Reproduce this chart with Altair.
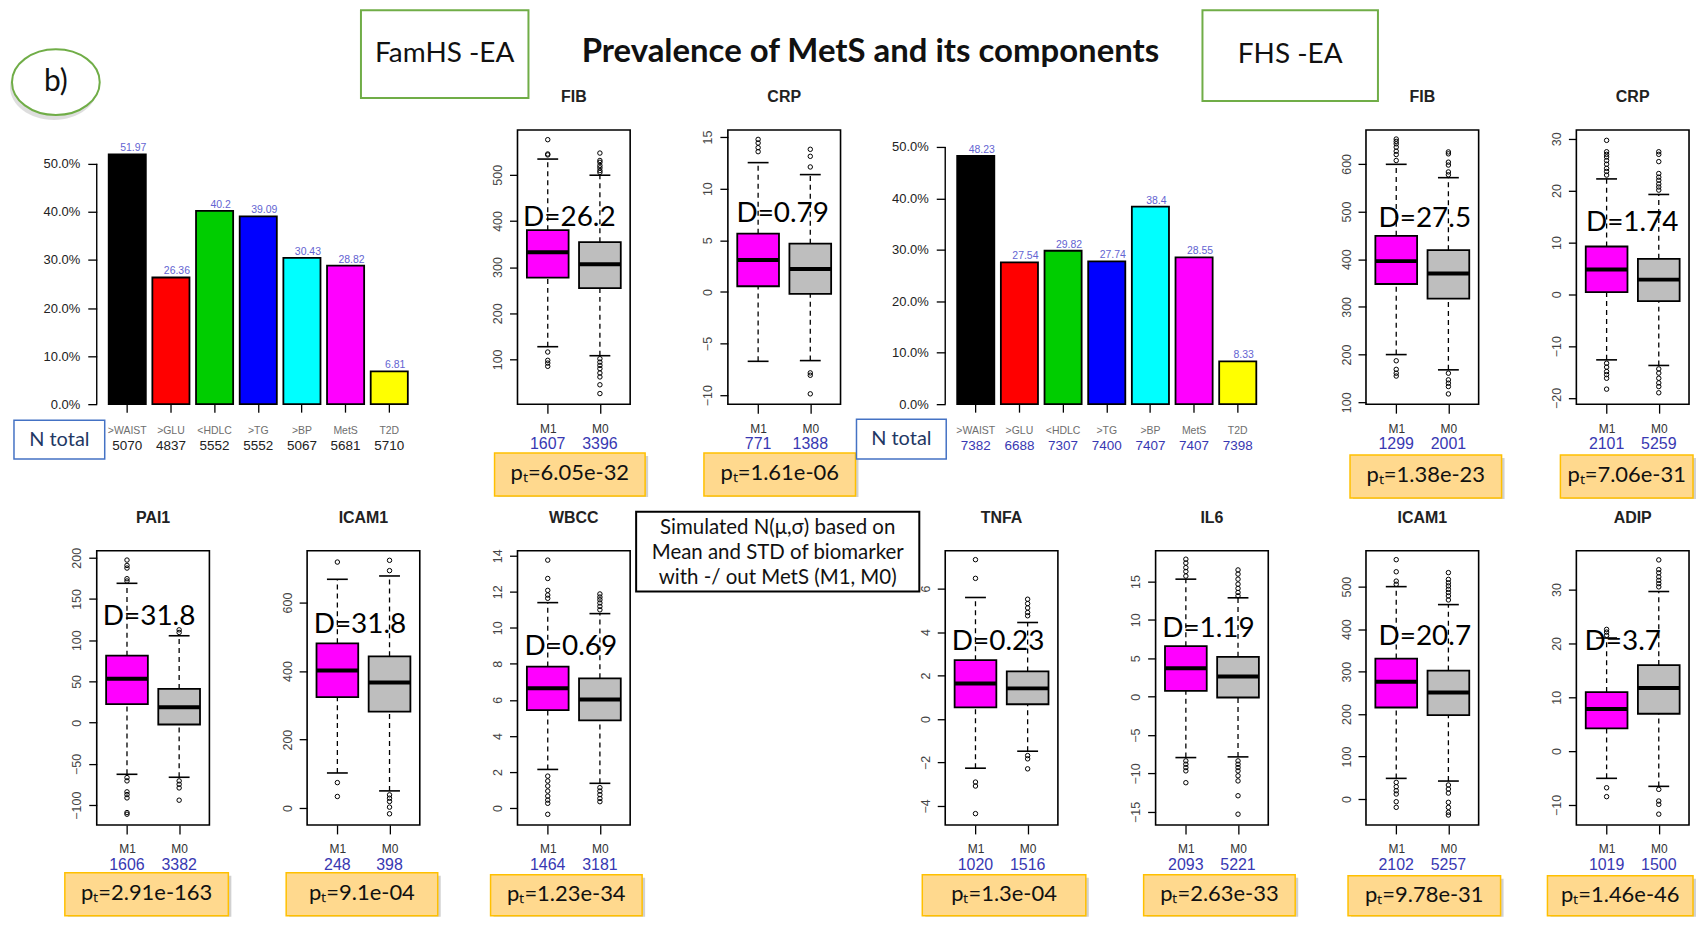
import altair as alt
import pandas as pd

# ------------------------------------------------------------------ data
categories = [">WAIST", ">GLU", "<HDLC", ">TG", ">BP", "MetS", "T2D"]
bar_colors = ["#000000", "#FF0000", "#00CD00", "#0000FF", "#00FFFF", "#FF00FF", "#FFFF00"]
famhs_prev = [51.97, 26.36, 40.2, 39.09, 30.43, 28.82, 6.81]
famhs_n = [5070, 4837, 5552, 5552, 5067, 5681, 5710]
fhs_prev = [48.23, 27.54, 29.82, 27.74, 38.4, 28.55, 8.33]
fhs_n = [7382, 6688, 7307, 7400, 7407, 7407, 7398]
pct_ticks = [0, 10, 20, 30, 40, 50]

group_labels = ["M1", "M0"]

# five-number summaries: [lower whisker, Q1, median, Q3, upper whisker]
famhs_fib_m1 = [127.5, 277, 332, 380, 534]
famhs_fib_m0 = [108, 254.5, 306, 354, 499]
famhs_fib_out_m1 = [576, 545, 543, 116, 98, 92, 85]
famhs_fib_out_m0 = [547, 531, 527, 520, 515, 509, 505, 101.5, 94, 87, 80, 70.5, 62, 45, 26]
famhs_fib_n = [1607, 3396]

famhs_crp_m1 = [-6.72, 0.55, 3.1, 5.64, 12.52]
famhs_crp_m0 = [-6.65, -0.19, 2.23, 4.67, 11.36]
famhs_crp_out_m1 = [14.77, 14.42, 13.97, 13.58]
famhs_crp_out_m0 = [13.81, 13.13, 12.1, -7.84, -8.07, -9.87]
famhs_crp_n = [771, 1388]

fhs_fib_m1 = [200, 348, 396, 449, 599]
fhs_fib_m0 = [168, 317.5, 370, 419, 571]
fhs_fib_out_m1 = [652, 647, 642, 635, 626.5, 619.5, 607, 187, 169, 161, 155]
fhs_fib_out_m0 = [625, 621, 603.5, 597.5, 583, 577, 161, 147, 140, 133, 117.5]
fhs_fib_n = [1299, 2001]

fhs_crp_m1 = [-12.65, 0.4, 4.8, 9.22, 22.26]
fhs_crp_m0 = [-13.73, -1.33, 2.83, 6.85, 19.26]
fhs_crp_out_m1 = [29.7, 27.5, 27.0, 26.5, 25.8, 25.1, 24.3, 23.7, 23.0,
                  -13.3, -14.05, -14.9, -15.5, -16.2, -18.3]
fhs_crp_out_m0 = [27.5, 27.0, 25.6, 23.3, 22.6, 22.0, 21.3, 20.7, 20.1,
                  -14.4, -15.2, -16.2, -17.1, -17.8, -19.0]
fhs_crp_n = [2101, 5259]

pai1_m1 = [-62.6, 22.4, 53.4, 81.2, 169]
pai1_m0 = [-66.2, -2.2, 18.8, 41, 105.4]
pai1_out_m1 = [197.2, 190.7, 187.5, 174.6, 171.8, -66.6, -70.6, -83.9, -87.2, -91.2, -109, -111]
pai1_out_m0 = [112.6, 109.4, -70.6, -74.7, -79.1, -94]
pai1_n = [1606, 3382]

famhs_icam1_m1 = [102.6, 324, 401.6, 481, 667.7]
famhs_icam1_m0 = [50.3, 281.6, 366.8, 443, 677.4]
famhs_icam1_out_m1 = [718, 74.5, 34]
famhs_icam1_out_m0 = [723, 693, 38.7, 29, 19.4, 2.9, -16.5]
famhs_icam1_n = [248, 398]

wbcc_m1 = [2.14, 5.43, 6.65, 7.85, 11.4]
wbcc_m0 = [1.37, 4.86, 6.02, 7.2, 10.79]
wbcc_out_m1 = [13.76, 12.74, 12.08, 11.82, 11.64, 1.77, 1.5, 1.22, 0.94, 0.66, 0.44, 0.26, -0.35]
wbcc_out_m0 = [11.88, 11.71, 11.56, 11.38, 11.19, 11.0, 1.13, 0.94, 0.74, 0.53, 0.35]
wbcc_n = [1464, 3181]

tnfa_m1 = [-2.26, 0.54, 1.63, 2.71, 5.59]
tnfa_m0 = [-1.48, 0.68, 1.41, 2.19, 4.44]
tnfa_out_m1 = [7.33, 6.47, -2.9, -3.08, -4.35]
tnfa_out_m0 = [5.51, 5.31, 5.11, 4.9, 4.75, -1.68, -1.83, -2.29]
tnfa_n = [1020, 1516]

il6_m1 = [-7.93, 0.76, 3.71, 6.58, 15.3]
il6_m0 = [-7.84, -0.11, 2.63, 5.19, 12.87]
il6_out_m1 = [17.9, 17.4, 16.8, 16.3, 15.7, -8.36, -8.8, -9.23, -9.66, -11.2]
il6_out_m0 = [16.5, 15.96, 15.3, 14.65, 14.09, 13.57, 13.13,
              -8.36, -8.8, -9.23, -9.66, -10.3, -10.97, -12.9, -15.3]
il6_n = [2093, 5221]

fhs_icam1_m1 = [48.6, 215.5, 275.9, 330.7, 500]
fhs_icam1_m0 = [42.3, 197.5, 250.8, 302.5, 457.7]
fhs_icam1_out_m1 = [563.5, 535, 513, 505.5, 39.2, 29, 19.6, 11.8, -6.3, -19.6]
fhs_icam1_out_m0 = [533, 517, 509, 501.6, 493.7, 486, 478, 468.7,
                    33, 23.5, 14, -7.8, -19.6, -31.3, -37.6]
fhs_icam1_n = [2102, 5257]

adip_m1 = [-5.05, 4.22, 7.8, 10.96, 21.0]
adip_m0 = [-6.54, 6.94, 11.7, 15.97, 29.63]
adip_out_m1 = [22.6, 22.1, 21.5, -6.8, -8.45]
adip_out_m0 = [35.5, 33.7, 33.1, 32.35, 31.7, 31.1, 30.5, -7.1, -9.26, -9.88, -11.7]
adip_n = [1019, 1500]

# ------------------------------------------------------------------ style
FR = "Liberation Sans"
FO = "Lato"
BLUE_N = "#3838B2"
PBOX_FILL = "#FFD98E"
PBOX_STROKE = "#FFC000"
GREEN = "#70AD47"

# grid column widths (shared by all rows)
COLS = [113, 98, 113, 98, 113, 98, 113, 105, 113, 98, 113, 98, 113, 98, 113]
NC = len(COLS)


def one():
    return pd.DataFrame({"k": [0]})


def vtext(text, x, y, **kw):
    return alt.Chart(one()).mark_text(**kw).encode(
        x=alt.value(x), y=alt.value(y), text=alt.value(text))


def vrect(x, x2, y, y2, **kw):
    return alt.Chart(one()).mark_rect(**kw).encode(
        x=alt.value(x), x2=alt.value(x2), y=alt.value(y), y2=alt.value(y2))


def spacer(w, h):
    return alt.Chart(one()).mark_point(opacity=0, size=1).encode(
        x=alt.value(w / 2), y=alt.value(h / 2)).properties(
        width=w, height=h, view=alt.ViewBackground(stroke="transparent", strokeWidth=0))


def pbox(text, x0, x1, y0, y1):
    return [
        vrect(x0 + 3, x1 + 3, y0 + 3, y1 + 1, fill="#9A9A9A", opacity=0.45),
        vrect(x0, x1, y0, y1, fill=PBOX_FILL, stroke=PBOX_STROKE, strokeWidth=1.5),
        vtext(text, (x0 + x1) / 2, (y0 + y1) / 2 - 1, font=FO, fontSize=22,
              color="#111111", baseline="middle", align="center"),
    ]


def box_panel(title, m1, m0, out1, out0, ydom, yticks, counts, dtext, dpos, ptext, pb):
    stats = pd.DataFrame({
        "g": [1, 2],
        "lab": group_labels,
        "lo": [m1[0], m0[0]], "q1": [m1[1], m0[1]], "med": [m1[2], m0[2]],
        "q3": [m1[3], m0[3]], "hi": [m1[4], m0[4]],
        "fill": ["#FF00FF", "#BEBEBE"],
        "n": [str(c) for c in counts],
    })
    outs = pd.DataFrame({"g": [1] * len(out1) + [2] * len(out0), "v": out1 + out0})
    xs = alt.Scale(domain=[0.42, 2.58], nice=False, zero=False)
    ys = alt.Scale(domain=ydom, nice=False, zero=False)
    xax = alt.Axis(values=[1, 2], labelExpr="datum.value == 1 ? 'M1' : 'M0'",
                   domain=False, grid=False, title=None, tickSize=9, tickColor="black",
                   tickWidth=1.3, labelFont=FR, labelFontSize=12, labelColor="#333333",
                   labelPadding=10)
    yax = alt.Axis(values=yticks, domain=False, grid=False, title=None, tickSize=8,
                   tickColor="black", tickWidth=1.3, labelFont=FR, labelFontSize=12.5,
                   labelColor="#444444", labelAngle=-90, labelAlign="center",
                   labelBaseline="bottom", labelPadding=5)

    def X(f):
        return alt.X(f + ":Q", scale=xs, axis=xax)

    def Y(f):
        return alt.Y(f + ":Q", scale=ys, axis=yax)

    base = alt.Chart(stats).transform_calculate(
        x1="datum.g - 0.4", x2="datum.g + 0.4",
        c1="datum.g - 0.2", c2="datum.g + 0.2")
    layers = [
        base.mark_rule(strokeDash=[5, 4], strokeWidth=1.3, color="black").encode(
            x=X("g"), y=Y("lo"), y2="q1"),
        base.mark_rule(strokeDash=[5, 4], strokeWidth=1.3, color="black").encode(
            x=X("g"), y=Y("q3"), y2="hi"),
        base.mark_rule(strokeWidth=1.6, color="black").encode(x=X("c1"), x2="c2", y=Y("lo")),
        base.mark_rule(strokeWidth=1.6, color="black").encode(x=X("c1"), x2="c2", y=Y("hi")),
        base.mark_rect(stroke="black", strokeWidth=1.8).encode(
            x=X("x1"), x2="x2", y=Y("q1"), y2="q3",
            fill=alt.Fill("fill:N", scale=None)),
        base.mark_rule(strokeWidth=4, color="black").encode(x=X("x1"), x2="x2", y=Y("med")),
        alt.Chart(outs).mark_point(shape="circle", size=20, filled=False, color="black",
                                   strokeWidth=1, opacity=1).encode(x=X("g"), y=Y("v")),
        base.mark_text(font=FR, fontSize=16, color=BLUE_N, baseline="middle").encode(
            x=X("g"), y=alt.value(315), text="n:N"),
        vtext(title, 56.5, -33, font=FR, fontSize=16, fontWeight="bold",
              color="#222222", baseline="middle"),
        vtext(dtext, dpos[0], dpos[1], font=FO, fontSize=28, color="#000000",
              baseline="middle", align="center"),
    ] + pbox(ptext, *pb)
    return alt.layer(*layers).properties(
        width=113, height=275,
        view=alt.ViewBackground(stroke="black", strokeWidth=1.6))


def bar_panel(prev, ns, ymax, ncolor, nbox):
    df = pd.DataFrame({
        "cat": categories, "p": prev,
        "n": [str(v) for v in ns],
        "lab": [f"{v:g}" for v in prev],
        "col": bar_colors,
    })
    axis_df = pd.DataFrame({"a": [pct_ticks[0]], "b": [pct_ticks[-1]]})
    # the bars spread to the right of this narrow grid cell
    xs = alt.Scale(domain=categories, range=[12, 312], paddingInner=0.15, paddingOuter=0)
    ys = alt.Scale(domain=[0, ymax], nice=False, zero=True)
    xax = alt.Axis(labels=False, domain=False, grid=False, title=None, tickSize=8,
                   tickColor="black", tickWidth=1.3, bandPosition=0.5)
    yax = alt.Axis(values=pct_ticks, labelExpr="format(datum.value, '.1f') + '%'",
                   domain=False, grid=False, title=None, tickSize=9, tickColor="black",
                   tickWidth=1.3, labelFont=FR, labelFontSize=13, labelColor="#222222",
                   labelPadding=8)
    X = alt.X("cat:N", scale=xs, axis=xax, sort=categories)
    base = alt.Chart(df)
    layers = [
        base.mark_bar(stroke="black", strokeWidth=1.8).encode(
            x=X, y=alt.Y("p:Q", scale=ys, axis=yax),
            fill=alt.Fill("col:N", scale=None)),
        alt.Chart(axis_df).mark_rule(color="black", strokeWidth=1.4).encode(
            x=alt.value(0), y=alt.Y("a:Q", scale=ys, axis=yax), y2="b"),
        base.mark_text(font=FR, fontSize=10.5, color="#6464D2", dx=6, dy=-1,
                       baseline="bottom").encode(
            x=X, y=alt.Y("p:Q", scale=ys, axis=yax), text="lab:N"),
        base.mark_text(font=FR, fontSize=10.5, color="#6E6E6E", baseline="middle").encode(
            x=X, y=alt.value(302), text="cat:N"),
        base.mark_text(font=FR, fontSize=13.5, color=ncolor, baseline="middle").encode(
            x=X, y=alt.value(316.5), text="n:N"),
        vrect(nbox[0], nbox[1], nbox[2], nbox[3], fill="white", stroke="#4472C4",
              strokeWidth=1.5),
        vtext("N total", (nbox[0] + nbox[1]) / 2, (nbox[2] + nbox[3]) / 2, font=FO,
              fontSize=20, color="#1F3864", baseline="middle", align="center"),
    ]
    return alt.layer(*layers).properties(
        width=113, height=275,
        view=alt.ViewBackground(stroke="transparent", strokeWidth=0))


ELLIPSE = "M -1 0 A 1 0.75 0 1 1 1 0 A 1 0.75 0 1 1 -1 0 Z"

header = alt.layer(
    vrect(-86, -85, 0, 1, fill="white"),
    alt.Chart(one()).mark_point(shape=ELLIPSE, size=7744, filled=True, fill="#A0A0A0",
                                opacity=0.35, strokeWidth=0).encode(
        x=alt.value(-43), y=alt.value(78)),
    alt.Chart(one()).mark_point(shape=ELLIPSE, size=7744, filled=True, fill="white",
                                stroke=GREEN, strokeWidth=2, opacity=1).encode(
        x=alt.value(-41), y=alt.value(73)),
    vtext("b)", -41, 73, font=FO, fontSize=30, color="#111111", baseline="middle"),
    vrect(265, 433, 1, 89, fill="white", stroke=GREEN, strokeWidth=2),
    vtext("FamHS -EA", 349, 45, font=FO, fontSize=28, color="#111111", baseline="middle"),
    vtext("Prevalence of MetS and its components", 776, 43, font=FO, fontSize=33,
          fontWeight="bold", color="#111111", baseline="middle"),
    vrect(1109, 1285, 1, 92, fill="white", stroke=GREEN, strokeWidth=2),
    vtext("FHS -EA", 1197, 46, font=FO, fontSize=28, color="#111111", baseline="middle"),
).properties(width=113, height=121,
             view=alt.ViewBackground(stroke="transparent", strokeWidth=0))

textbox = alt.layer(
    vrect(6, 290, -39, 41, fill="white", stroke="black", strokeWidth=2),
    vtext("Simulated N(\u03bc,\u03c3) based on", 148, -23, font=FO, fontSize=20.5,
          color="#111111", baseline="middle"),
    vtext("Mean and STD of biomarker", 148, 2, font=FO, fontSize=20.5,
          color="#111111", baseline="middle"),
    vtext("with -/ out MetS (M1, M0)", 148, 27, font=FO, fontSize=20.5,
          color="#111111", baseline="middle"),
).properties(width=98, height=275,
             view=alt.ViewBackground(stroke="transparent", strokeWidth=0))

# ------------------------------------------------------------------ panels
bar_f = bar_panel(famhs_prev, famhs_n, 57.05, "#222222", [-83, 8, 291, 330])
bar_h = bar_panel(fhs_prev, fhs_n, 53.29, BLUE_N, [-89, 1, 290, 330])

fib_f = box_panel("FIB", famhs_fib_m1, famhs_fib_m0, famhs_fib_out_m1, famhs_fib_out_m0,
                  [3, 597], [100, 200, 300, 400, 500], famhs_fib_n, "D=26.2", (52, 88),
                  "p\u209c=6.05e-32", (-23, 128, 324, 367))
crp_f = box_panel("CRP", famhs_crp_m1, famhs_crp_m0, famhs_crp_out_m1, famhs_crp_out_m0,
                  [-10.87, 15.68], [-10, -5, 0, 5, 10, 15], famhs_crp_n, "D=0.79", (55, 84),
                  "p\u209c=1.61e-06", (-24, 128, 324, 367))
fib_h = box_panel("FIB", fhs_fib_m1, fhs_fib_m0, fhs_fib_out_m1, fhs_fib_out_m0,
                  [96, 671], [100, 200, 300, 400, 500, 600], fhs_fib_n, "D=27.5", (59, 89),
                  "p\u209c=1.38e-23", (-16, 136, 326, 369))
crp_h = box_panel("CRP", fhs_crp_m1, fhs_crp_m0, fhs_crp_out_m1, fhs_crp_out_m0,
                  [-21.2, 31.7], [-20, -10, 0, 10, 20, 30], fhs_crp_n, "D=1.74", (56, 93),
                  "p\u209c=7.06e-31", (-16, 117, 326, 369))

pai1 = box_panel("PAI1", pai1_m1, pai1_m0, pai1_out_m1, pai1_out_m0,
                 [-124, 208.5], [-100, -50, 0, 50, 100, 150, 200], pai1_n, "D=31.8", (52.5, 66),
                 "p\u209c=2.91e-163", (-32, 132, 323, 366))
icam_f = box_panel("ICAM1", famhs_icam1_m1, famhs_icam1_m0, famhs_icam1_out_m1,
                   famhs_icam1_out_m0, [-49, 751], [0, 200, 400, 600], famhs_icam1_n,
                   "D=31.8", (53, 75), "p\u209c=9.1e-04", (-21, 131, 323, 366))
wbcc = box_panel("WBCC", wbcc_m1, wbcc_m0, wbcc_out_m1, wbcc_out_m0,
                 [-0.94, 14.28], [0, 2, 4, 6, 8, 10, 12, 14], wbcc_n, "D=0.69", (53.5, 97),
                 "p\u209c=1.23e-34", (-27, 125, 325, 366))
tnfa = box_panel("TNFA", tnfa_m1, tnfa_m0, tnfa_out_m1, tnfa_out_m0,
                 [-4.87, 7.74], [-4, -2, 0, 2, 4, 6], tnfa_n, "D=0.23", (53, 92),
                 "p\u209c=1.3e-04", (-23, 141, 325, 366))
il6 = box_panel("IL6", il6_m1, il6_m0, il6_out_m1, il6_out_m0,
                [-16.7, 19.0], [-15, -10, -5, 0, 5, 10, 15], il6_n, "D=1.19", (53, 79),
                "p\u209c=2.63e-33", (-12, 140, 325, 366))
icam_h = box_panel("ICAM1", fhs_icam1_m1, fhs_icam1_m0, fhs_icam1_out_m1, fhs_icam1_out_m0,
                   [-61, 584.5], [0, 100, 200, 300, 400, 500], fhs_icam1_n, "D=20.7", (59, 87),
                   "p\u209c=9.78e-31", (-18, 135, 326, 366))
adip = box_panel("ADIP", adip_m1, adip_m0, adip_out_m1, adip_out_m0,
                 [-13.7, 37.2], [-10, 0, 10, 20, 30], adip_n, "D=3.7", (46.5, 92),
                 "p\u209c=1.46e-46", (-29, 117, 326, 366))


def fill_row(cells, h):
    """cells: dict column index -> chart; other columns get spacers."""
    return [cells[i] if i in cells else spacer(COLS[i], h) for i in range(NC)]


row0 = fill_row({0: header}, 121)
row1 = fill_row({0: bar_f, 4: fib_f, 6: crp_f, 8: bar_h, 12: fib_h, 14: crp_h}, 275)
rowg = fill_row({}, 147)
row2 = fill_row({0: pai1, 2: icam_f, 4: wbcc, 5: textbox, 8: tnfa, 10: il6,
                 12: icam_h, 14: adip}, 275)

chart = alt.concat(*(row0 + row1 + rowg + row2), columns=NC,
                   bounds="flush", spacing=0).properties(
    padding=0, background="white"
).configure_view(stroke="transparent", strokeWidth=0)

chart.save("out.html", embed_options={"renderer": "svg", "actions": False})
